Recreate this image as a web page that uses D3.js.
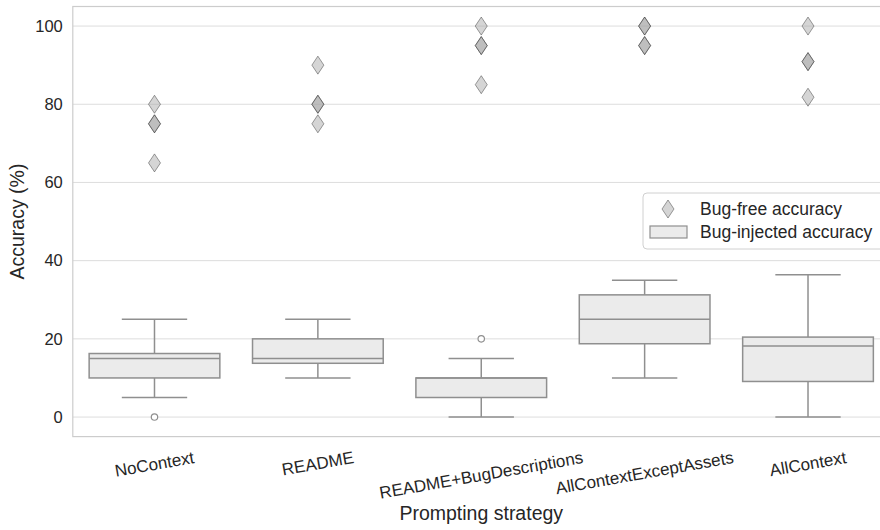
<!DOCTYPE html>
<html>
<head>
<meta charset="utf-8">
<script src="https://cdn.jsdelivr.net/npm/d3@7"></script>
<style>
  html, body { margin: 0; padding: 0; background: #fff; }
  svg { display: block; font-family: "Liberation Sans", Arial, sans-serif; }
</style>
</head>
<body>
<svg id="chart" width="880" height="530"></svg>
<script>
const categories = ["NoContext", "README", "README+BugDescriptions", "AllContextExceptAssets", "AllContext"];
// Bug-free accuracy points (overlapping points appear darker)
const bugFree = [
  [80, 75, 75, 65],
  [90, 80, 80, 75],
  [100, 95, 95, 85],
  [100, 100, 95, 95],
  [100, 90.9, 90.9, 81.8]
];
// Bug-injected accuracy box statistics
const whiskerLow  = [5, 10, 0, 10, 0];
const boxQ1       = [10, 13.75, 5, 18.75, 9.1];
const boxMedian   = [15, 15, 10, 25, 18.2];
const boxQ3       = [16.25, 20, 10, 31.25, 20.45];
const whiskerHigh = [25, 25, 15, 35, 36.4];
const outliers    = [[0], [], [20], [], []];
const yTicks = [0, 20, 40, 60, 80, 100];

(function draw() {
const svg = d3.select("#chart");
const pLeft = 72.8, pRight = 889.7, pTop = 6.5, pBottom = 436.6;

const x = d3.scaleBand().domain(categories).range([pLeft, pRight]).paddingInner(0).paddingOuter(0);
const y = d3.scaleLinear().domain([-5, 105]).range([pBottom, pTop]);

const gridColor = "#dddddd";
const textColor = "#262626";

// grid
svg.append("g").selectAll("line").data(yTicks).join("line")
  .attr("x1", pLeft).attr("x2", pRight)
  .attr("y1", d => y(d)).attr("y2", d => y(d))
  .attr("stroke", gridColor).attr("stroke-width", 1);

// spines
svg.append("rect").attr("x", pLeft).attr("y", pTop).attr("width", pRight - pLeft).attr("height", pBottom - pTop)
  .attr("fill", "none").attr("stroke", "#cccccc").attr("stroke-width", 1.2);

// y axis
const yAxis = d3.axisLeft(y).tickValues(yTicks).tickSize(0).tickPadding(10).tickFormat(d3.format("d"));
const gy = svg.append("g").attr("transform", `translate(${pLeft},0)`).call(yAxis);
gy.select(".domain").remove();
gy.selectAll("text").attr("font-size", 16.5).attr("fill", textColor).attr("font-family", "Liberation Sans, Arial, sans-serif");

// x axis labels (rotated)
const xAxis = d3.axisBottom(x).tickSize(0).tickPadding(0);
const gx = svg.append("g").attr("transform", `translate(0,${pBottom})`).call(xAxis);
gx.select(".domain").remove();
const ang = 10 * Math.PI / 180;
gx.selectAll(".tick text")
  .attr("font-size", 17).attr("fill", textColor).attr("font-family", "Liberation Sans, Arial, sans-serif")
  .attr("text-anchor", "middle").attr("dy", null).attr("dominant-baseline", "central")
  .each(function() {
    const w = this.getComputedTextLength();
    const h = 19;
    const cy = 11.5 + (w * Math.sin(ang) + h * Math.cos(ang)) / 2;
    d3.select(this).attr("y", 0).attr("transform", `translate(0,${cy}) rotate(-10)`);
  });

// boxes
const bw = x.bandwidth() * 0.8;
const boxStroke = "#8f8f8f";
const boxes = svg.append("g");
categories.forEach((c, i) => {
  const cx = x(c) + x.bandwidth() / 2;
  const g = boxes.append("g");
  g.append("line").attr("x1", cx).attr("x2", cx).attr("y1", y(boxQ3[i])).attr("y2", y(whiskerHigh[i]))
    .attr("stroke", boxStroke).attr("stroke-width", 1.5);
  g.append("line").attr("x1", cx).attr("x2", cx).attr("y1", y(boxQ1[i])).attr("y2", y(whiskerLow[i]))
    .attr("stroke", boxStroke).attr("stroke-width", 1.5);
  [whiskerHigh[i], whiskerLow[i]].forEach(v => {
    g.append("line").attr("x1", cx - bw / 4).attr("x2", cx + bw / 4).attr("y1", y(v)).attr("y2", y(v))
      .attr("stroke", boxStroke).attr("stroke-width", 1.5);
  });
  g.append("rect").attr("x", cx - bw / 2).attr("width", bw)
    .attr("y", y(boxQ3[i])).attr("height", Math.max(0.01, y(boxQ1[i]) - y(boxQ3[i])))
    .attr("fill", "#ebebeb").attr("stroke", boxStroke).attr("stroke-width", 1.5);
  g.append("line").attr("x1", cx - bw / 2).attr("x2", cx + bw / 2).attr("y1", y(boxMedian[i])).attr("y2", y(boxMedian[i]))
    .attr("stroke", boxStroke).attr("stroke-width", 1.5);
  g.selectAll("circle").data(outliers[i]).join("circle")
    .attr("cx", cx).attr("cy", d => y(d)).attr("r", 3.2)
    .attr("fill", "#ffffff").attr("stroke", boxStroke).attr("stroke-width", 1.2);
});

// diamonds
const dw = 6, dh = 9;
const diamondPath = `M0,${-dh} L${dw},0 L0,${dh} L${-dw},0 Z`;
const pts = [];
categories.forEach((c, i) => bugFree[i].forEach(v => pts.push({ c, v })));
svg.append("g").selectAll("path").data(pts).join("path")
  .attr("d", diamondPath)
  .attr("transform", d => `translate(${x(d.c) + x.bandwidth() / 2},${y(d.v)})`)
  .attr("fill", "rgba(162,162,162,0.45)")
  .attr("stroke", "rgba(45,45,45,0.45)").attr("stroke-width", 1);

// axis titles
svg.append("text").attr("x", (pLeft + pRight) / 2).attr("y", 520).attr("text-anchor", "middle")
  .attr("font-size", 19.5).attr("fill", textColor).text("Prompting strategy");
svg.append("text").attr("transform", `translate(24,${(pTop + pBottom) / 2}) rotate(-90)`).attr("text-anchor", "middle")
  .attr("font-size", 19.5).attr("fill", textColor).text("Accuracy (%)");

// legend
const lg = svg.append("g");
lg.append("rect").attr("x", 643).attr("y", 193).attr("width", 250).attr("height", 56).attr("rx", 4)
  .attr("fill", "rgba(255,255,255,0.85)").attr("stroke", "#d0d0d0").attr("stroke-width", 1);
lg.append("path").attr("d", diamondPath).attr("transform", "translate(668,209)")
  .attr("fill", "rgba(162,162,162,0.45)").attr("stroke", "rgba(45,45,45,0.45)").attr("stroke-width", 1);
lg.append("text").attr("x", 700).attr("y", 215).attr("font-size", 17.5).attr("fill", textColor).text("Bug-free accuracy");
lg.append("rect").attr("x", 650).attr("y", 226).attr("width", 37).attr("height", 12)
  .attr("fill", "#ebebeb").attr("stroke", boxStroke).attr("stroke-width", 1.2);
lg.append("text").attr("x", 700).attr("y", 238).attr("font-size", 17.5).attr("fill", textColor).text("Bug-injected accuracy");
})();
</script>
</body>
</html>
